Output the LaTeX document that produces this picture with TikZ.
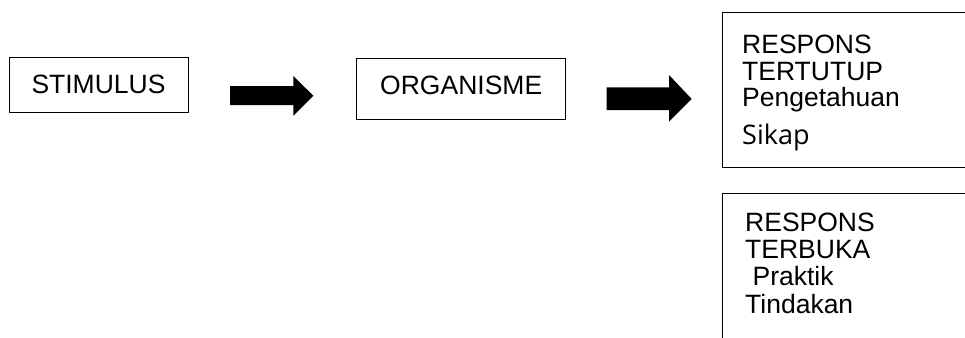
\documentclass[tikz,border=0pt]{standalone}
\usepackage{fontspec}
\setmainfont{Liberation Sans}
\newfontfamily\sikapfont{Open Sans}
\begin{document}
\begin{tikzpicture}[x=1pt,y=-1pt,
    kotak/.style={draw,rectangle,line width=0.8pt,inner sep=0pt,font=\fontsize{26.5}{27}\selectfont},
    baris/.style={anchor=base west,inner sep=0pt,font=\fontsize{26.5}{27}\selectfont}]
      \useasboundingbox (0,0) rectangle (965,337);
      \clip (0,0) rectangle (965,337);
      \draw
        (98.5,84.8) node[kotak,minimum width=179pt,minimum height=55pt] (stim){STIMULUS}
        (461.2,88.8) node[kotak,minimum width=209pt,minimum height=61pt,text depth=6.5pt] (org){ORGANISME}
        (722.3,12.3) node[kotak,anchor=north west,minimum width=320pt,minimum height=154.4pt] (tutup){}
        (722.3,193.3) node[kotak,anchor=north west,minimum width=320pt,minimum height=200pt] (buka){};
      \begin{scope}[baris]
        \node at (742,53.3) (t1){RESPONS};
        \node at (742,80) (t2){TERTUTUP};
        \node at (742,106.7) (t3){Pengetahuan};
        \node[font=\sikapfont\fontsize{27}{28}\selectfont] at (742,144.3) (t4){Sikap};
        \node at (745,231.7) (b1){RESPONS};
        \node at (745,258.3) (b2){TERBUKA};
        \node at (745,285) (b3){\ Praktik};
        \node at (745,313.3) (b4){Tindakan};
      \end{scope}
      \begin{scope}[fill=black]
        \fill (230,86) -- (293.3,86) -- (293.3,76) -- (313.3,95.7) -- (293.3,115.7)
          -- (293.3,105) -- (230,105) -- cycle;
        \fill (606.7,87.3) -- (669,87.3) -- (669,75) -- (691.7,99) -- (669,121.7)
          -- (669,110) -- (606.7,110) -- cycle;
      \end{scope}
    \end{tikzpicture}
\end{document}
